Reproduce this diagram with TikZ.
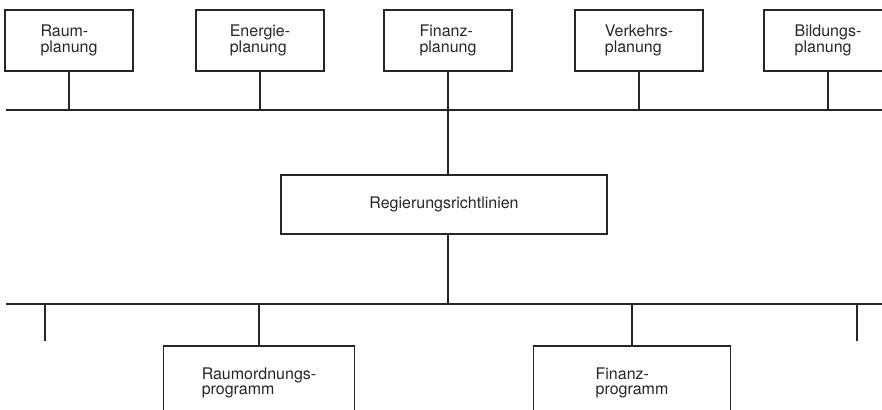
\documentclass[tikz,border=0pt]{standalone}
\usepackage{fontspec}
\setsansfont{TeX Gyre Heros}
\begin{document}
\begin{tikzpicture}[
  x=1pt, y=-1pt,
  plan/.style={rectangle, draw=black!85, text=black!85, line width=1.3pt, minimum width=128pt, minimum height=61pt, align=left, inner sep=0pt},
  prog/.style={rectangle, draw=black!85, text=black!85, line width=1.3pt, minimum height=74pt, align=left, inner sep=0pt},
  bus/.style={draw=black!85, line width=1.7pt},
  font=\sffamily\fontsize{16}{15.5}\selectfont
]
\useasboundingbox (0,0) rectangle (882,409);

% Planungsbereiche oben
\node[plan] (raum) at (69,40.5) {Raum-\\planung};
\node[plan] (energie) at (260,40.5) {Energie-\\planung};
\node[plan] (finanz) at (448,40.5) {Finanz-\\planung};
\node[plan] (verkehr) at (639,40.5) {Verkehrs-\\planung};
\node[plan] (bildung) at (828,40.5) {Bildungs-\\planung};

\node[plan, minimum width=326pt, minimum height=59pt] (regierung) at (444,204.5) {Regierungsrichtlinien};

% Programme unten
\node[prog, minimum width=191pt] (raumprog) at (259,383) {Raumordnungs-\\programm};
\node[prog, minimum width=197pt] (finanzprog) at (632,383) {Finanz-\\programm};

\coordinate (topL) at (6,110);
\coordinate (topR) at (882,110);
\coordinate (botL) at (6,304);
\coordinate (botR) at (882,304);
\coordinate (tickL) at (45,341);
\coordinate (tickR) at (857,341);

\draw[bus] (topL) -- (topR);
\draw[bus] (botL) -- (botR);

\foreach \n in {raum,energie,finanz,verkehr,bildung}
  \draw[bus] (\n.south) -- (\n.south |- topL);

\draw[bus] (regierung.north -| finanz.south) -- (finanz.south |- topL);
\draw[bus] (regierung.south -| finanz.south) -- (finanz.south |- botL);
\draw[bus] (raumprog.north) -- (raumprog.north |- botL);
\draw[bus] (finanzprog.north) -- (finanzprog.north |- botL);
\draw[bus] (tickL) -- (tickL |- botL);
\draw[bus] (tickR) -- (tickR |- botL);
\end{tikzpicture}
\end{document}
